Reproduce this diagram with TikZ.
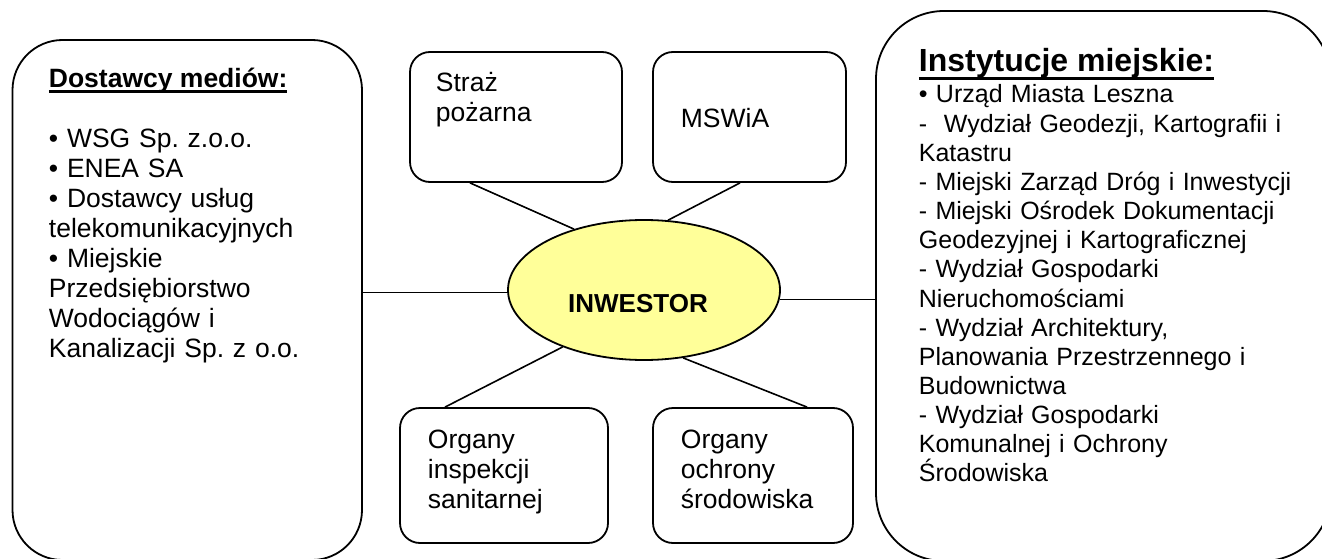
\documentclass[tikz,border=0pt]{standalone}
\usepackage{fontspec}
\setmainfont{Liberation Sans}
\usetikzlibrary{shapes.geometric}
\frenchspacing
\newcommand\myuline[3]{\setbox0\hbox{#3}\rlap{\copy0}\rule[#1]{\wd0}{#2}}
\definecolor{invyellow}{HTML}{FFFF99}
\begin{document}
\begin{tikzpicture}[x=1pt,y=-1pt,line width=1.8pt,
  bigbox/.style={draw, rectangle, inner sep=0pt},
  smallbox/.style={draw, rectangle, rounded corners=20pt, inner sep=0pt},
  conn/.style={draw, line width=1.6pt},
  txt/.style={inner sep=0pt, anchor=base west, align=left, text width=200pt, font={\frenchspacing\fontsize{26.5}{30}\selectfont}},
  rtxt/.style={inner sep=0pt, anchor=base west, align=left, text width=430pt, font={\frenchspacing\fontsize{25}{29.15}\selectfont}}]
\clip (0,0) rectangle (1322,559);
\fill[white] (0,0) rectangle (1322,559);
% big boxes
\node[bigbox, rounded corners=50pt, minimum width=349.5pt, minimum height=520pt] (lbox) at (187.25,300) {};
\node[bigbox, rounded corners=68pt, minimum width=455pt, minimum height=550pt] (rbox) at (1103.5,286) {};
% small boxes
\node[smallbox, minimum width=212pt, minimum height=130pt] (stra) at (516,117) {};
\node[smallbox, minimum width=193pt, minimum height=130pt] (msw) at (749.5,117) {};
\node[smallbox, minimum width=208pt, minimum height=135pt] (insp) at (504,475.5) {};
\node[smallbox, minimum width=200pt, minimum height=135pt] (ochr) at (753,475.5) {};
% ellipse
\node[draw, ellipse, fill=invyellow, minimum width=272pt, minimum height=140pt, inner sep=0pt] (inv) at (644,290) {};
% connectors
\draw[conn] (inv.181) -- (inv.181 -| lbox.east);
\draw[conn] (inv.356.6) -- (inv.356.6 -| rbox.west);
\draw[conn] ([xshift=-46pt]stra.south) -- (inv.139);
\draw[conn] ([xshift=-9.5pt]msw.south) -- (inv.71.8);
\draw[conn] ([xshift=-59pt]insp.north) -- (inv.215.6);
\draw[conn] ([xshift=54pt]ochr.north) -- (inv.300.4);
% texts
\node[inner sep=0pt, anchor=base, font={\bfseries\fontsize{26}{30}\selectfont}] (invt) at (638,312) {INWESTOR};
\node[txt] (strat) at (435,92) {Straż\\pożarna};
\node[txt] (mswt) at (680,128) {MSWiA};
\node[txt] (inspt) at (427,448) {Organy\\inspekcji\\sanitarnej};
\node[txt] (ochrt) at (680,448) {Organy\\ochrony\\środowiska};
\node[inner sep=0pt, anchor=base west, font={\bfseries\fontsize{26.5}{30}\selectfont}] (lhead) at (48,88) {\myuline{-4.7pt}{2.2pt}{Dostawcy mediów:}};
\node[txt, text width=320pt] (llist) at (48,147) {• WSG Sp. z.o.o.\\• ENEA SA\\• Dostawcy usług\\telekomunikacyjnych\\• Miejskie\\Przedsiębiorstwo\\Wodociągów i\\Kanalizacji Sp. z o.o.};
\node[inner sep=0pt, anchor=base west, font={\bfseries\fontsize{32}{36}\selectfont}] (rhead) at (918,72) {\myuline{-8pt}{3pt}{Instytucje miejskie:}};
\node[rtxt] (rlist) at (918,103) {• Urząd Miasta Leszna\\-\ \ Wydział Geodezji, Kartografii i\\Katastru\\- Miejski Zarząd Dróg i Inwestycji\\- Miejski Ośrodek Dokumentacji\\Geodezyjnej i Kartograficznej\\- Wydział Gospodarki\\Nieruchomościami\\- Wydział Architektury,\\Planowania Przestrzennego i\\Budownictwa\\- Wydział Gospodarki\\Komunalnej i Ochrony\\Środowiska};
\end{tikzpicture}
\end{document}
